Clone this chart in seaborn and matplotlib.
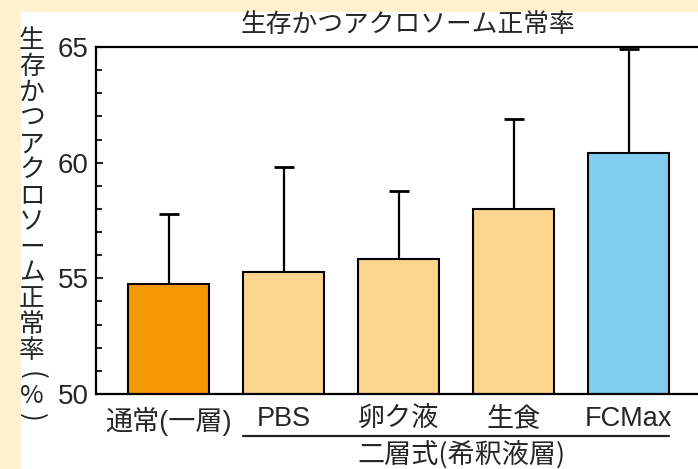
import matplotlib
matplotlib.use("Agg")
import matplotlib.pyplot as plt
import matplotlib.transforms as mtransforms
from matplotlib.patches import Rectangle
from matplotlib.ticker import MultipleLocator
import seaborn as sns
import numpy as np

# ---- data ----
categories = ["通常(一層)", "PBS", "卵ク液", "生食", "FCMax"]
means = [54.75, 55.27, 55.85, 57.98, 60.43]
upper = [57.80, 59.83, 58.79, 61.88, 64.91]
bar_colors = ["#F39800", "#FBD58E", "#FBD58E", "#FBD58E", "#7FCDF1"]
title = "生存かつアクロソーム正常率"
ylabel_main = "生存かつアクロソーム正常率"
ylabel_unit = ["(", "%", ")"]
group_label = "二層式(希釈液層)"
y_ticks = [50, 55, 60, 65]

sns.set_style("ticks")
plt.rcParams["font.family"] = ["Liberation Sans", "Noto Sans CJK JP", "DejaVu Sans"]

W, H = 698, 469
fig = plt.figure(figsize=(W / 100, H / 100), dpi=100)
fig.patch.set_facecolor("#FFF1CE")
fig.patches.append(Rectangle((21 / W, 0), 1 - 21 / W, (H - 12) / H,
                             transform=fig.transFigure, facecolor="white",
                             edgecolor="none", zorder=-5))

ax_left, ax_right = 96 / W, 1.0
ax_bottom, ax_top = 1 - 394 / H, 1 - 47 / H
ax = fig.add_axes([ax_left, ax_bottom, ax_right - ax_left, ax_top - ax_bottom])
ax.set_zorder(2)
ax.set_facecolor("none")

bw = 0.704
sns.barplot(x=categories, y=means, hue=categories, palette=bar_colors,
            legend=False, width=bw, edgecolor="black", linewidth=1.5,
            saturation=1, ax=ax, zorder=2)

xs = np.arange(len(categories))
err_up = np.array(upper) - np.array(means)
ax.errorbar(xs, means, yerr=[np.zeros_like(err_up), err_up], fmt="none",
            ecolor="black", elinewidth=1.6, capsize=7.4, capthick=2.0, zorder=1)

ax.set_ylim(50, 65)
ax.set_xlim(-0.63, 4.60)
ax.set_yticks(y_ticks)
ax.yaxis.set_minor_locator(MultipleLocator(1))
ax.tick_params(axis="y", which="major", direction="in", length=5, width=1.5,
               labelsize=20, pad=5.5)
ax.tick_params(axis="y", which="minor", direction="in", length=4, width=1.5)
ax.tick_params(axis="x", length=0, labelsize=19.5, pad=9)
ax.set_xlabel("")
ax.set_ylabel("")
for s in ["left", "top", "bottom"]:
    ax.spines[s].set_linewidth(1.6)
    ax.spines[s].set_color("black")
ax.spines["right"].set_visible(False)

# title
fig.text(407.5 / W, 1 - 25 / H, title, ha="center", va="center",
         fontsize=18.5, family=["Noto Sans CJK JP"])

# vertical y label: stacked characters in one multi-line text
renderer = fig.canvas.get_renderer()
yl = fig.text(32 / W, 1 - 28 / H, "\n".join(ylabel_main), ha="center", va="top",
              fontsize=18.5, family=["Noto Sans CJK JP"], linespacing=1.0)
n = len(ylabel_main)
h_all = yl.get_window_extent(renderer).height
probe = fig.text(0, 0, ylabel_main[0], fontsize=18.5, family=["Noto Sans CJK JP"])
h_one = probe.get_window_extent(renderer).height
probe.remove()
dy1 = (h_all - h_one) / (n - 1)
yl.set_linespacing(25.8 / dy1)

# unit in parentheses below, parentheses turned for vertical writing
unit_y = [375, 396, 417]
unit_rot = [-90, 0, -90]
unit_size = [19, 18.5, 19]
for ch, yy, rot, fs in zip(ylabel_unit, unit_y, unit_rot, unit_size):
    fig.text(32 / W, 1 - yy / H, ch, ha="center", va="center", rotation=rot,
             fontsize=fs, family=["Noto Sans CJK JP"])

# group line and label
blend = mtransforms.blended_transform_factory(ax.transData, fig.transFigure)
ax.plot([1 - bw / 2, 4 + bw / 2], [1 - 436 / H, 1 - 436 / H], color="#222222",
        lw=1.6, transform=blend, clip_on=False)
fig.text(461 / W, 1 - 456 / H, group_label, ha="center", va="center",
         fontsize=19.5, family=["Noto Sans CJK JP"])

fig.savefig("out.png", dpi=100, facecolor=fig.get_facecolor())
